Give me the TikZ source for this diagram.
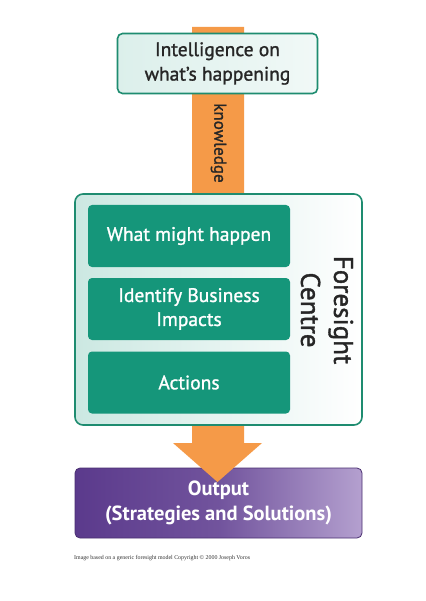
\documentclass[tikz,border=0pt]{standalone}
\usepackage{fontspec}
\setmainfont{PT Sans}
\newfontfamily\medf{PT Sans}[FakeBold=1.3]
\newfontfamily\capfont{Liberation Serif}
\definecolor{teal1}{HTML}{15967A}
\definecolor{tealb}{HTML}{1E8C70}
\definecolor{orng}{HTML}{F59A48}
\definecolor{purpL}{HTML}{5B3A8C}
\definecolor{purpR}{HTML}{B4A0CF}
\tikzset{
  inbox/.style={draw=none, fill=teal1, rounded corners=4pt, minimum width=202pt, minimum height=62pt,
    text=white, font=\medf\fontsize{19.5}{24}\selectfont, align=center, inner sep=0pt},
}
\begin{document}
\begin{tikzpicture}[x=1pt,y=-1pt]
\useasboundingbox (0,0) rectangle (425,601);
\fill[white] (0,0) rectangle (425,601);
% output box
\node[draw=purpL!80!black, line width=0.8pt, rounded corners=5pt, left color=purpL, right color=purpR,
  middle color=purpL!75!purpR, minimum width=287pt, minimum height=70pt, inner sep=0pt,
  text=white, font=\bfseries\fontsize{20.5}{25}\selectfont, align=center] (out) at (218.5,503)
  {Output\\(Strategies and Solutions)};
% orange arrow
\fill[orng] (192,27) -- (244,27) -- (244,443) -- (262,443) -- (217.5,482) -- (173,443) -- (192,443) -- cycle;
\node[rotate=-90, font=\medf\fontsize{17}{20}\selectfont, text=black!85] (know) at (218.5,143) {knowledge};
% top box
\node[draw=tealb, line width=1.6pt, rounded corners=5pt, left color=teal1!15, right color=teal1!6,
  minimum width=200pt, minimum height=60pt, inner sep=0pt, align=center,
  font=\medf\fontsize{19.5}{24.5}\selectfont, text=black!85] (intel) at (217.5,63.5)
  {Intelligence on\\what’s happening};
% foresight centre
\node[draw=tealb, line width=1.6pt, rounded corners=8pt, left color=teal1!22, right color=white,
  minimum width=287pt, minimum height=231pt, inner sep=0pt] (fc) at (218.5,309.5) {};
\node[inbox] (b1) at (189,236) {What might happen};
\node[inbox] (b2) at (189,309) {Identify Business\\Impacts};
\node[inbox] (b3) at (189,382.5) {Actions};
\node[rotate=-90, font=\medf\fontsize{27}{33}\selectfont, align=center, text=black!85] (fst) at (327,310) {Foresight\\Centre};
% caption
\node[anchor=west, font=\capfont\fontsize{5.9}{8}\selectfont, text=black!80, inner sep=0pt] (cap) at (74,558)
  {Image based on a generic foresight model Copyright © 2000 Joseph Voros};
\end{tikzpicture}
\end{document}
